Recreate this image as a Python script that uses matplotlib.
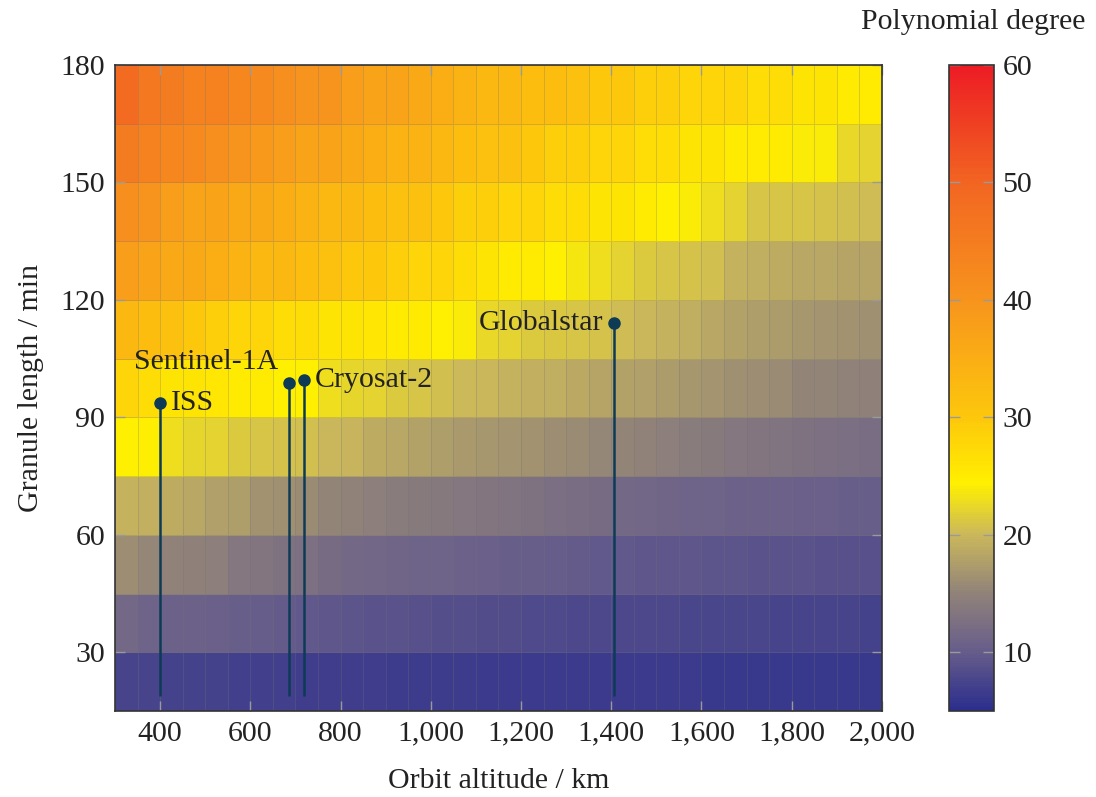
import numpy as np
import matplotlib
matplotlib.use('Agg')
import matplotlib.pyplot as plt
from matplotlib.colors import LinearSegmentedColormap
from matplotlib.ticker import FuncFormatter


plt.rcParams['font.family'] = ['Liberation Serif', 'DejaVu Serif']

# grid of the surface: orbit altitude (km) and granule length (min)
alt_edges = np.arange(300, 2001, 50)
gran_edges = np.arange(15, 181, 15)

# polynomial degree per cell, one list per granule-length row (bottom to top)
deg_15 = [7.5, 7.4, 7.3, 7.2, 7.2, 7.1, 7.0, 7.0, 6.9, 6.9, 6.8, 6.8, 6.7, 6.7, 6.6, 6.6, 6.5,
          6.5, 6.5, 6.4, 6.4, 6.4, 6.3, 6.3, 6.3, 6.3, 6.2, 6.2, 6.2, 6.2, 6.1, 6.1, 6.1, 6.1]
deg_30 = [11.5, 11, 10.8, 10.6, 10.4, 10.2, 10, 9.8, 9.6, 9.3, 9.1, 9, 8.9, 8.8, 8.6, 8.5, 8.4,
          8.3, 8.2, 8.1, 8, 7.9, 7.9, 7.8, 7.8, 7.7, 7.7, 7.6, 7.6, 7.5, 7.5, 7.4, 7.4, 7.3]
deg_45 = [16, 15.5, 15, 14.8, 14.5, 13.5, 13.2, 12.8, 12.6, 12, 11.6, 11.4, 11.2, 11, 10.9, 10.7, 10.5,
          10.3, 10.2, 10, 9.9, 9.7, 9.6, 9.5, 9.4, 9.3, 9.2, 9.1, 9, 9, 8.9, 8.8, 8.8, 8.7]
deg_60 = [19.6, 19.3, 18.8, 18.5, 17.8, 17.5, 16.5, 16.2, 15.8, 15.3, 15, 14.5, 14.2, 14, 13.7, 13.5, 13.3,
          13, 12.8, 12.5, 12.2, 12, 11.6, 11.4, 11.2, 11, 10.9, 10.8, 10.7, 10.6, 10.5, 10.4, 10.3, 10.2]
deg_75 = [24.5, 24.3, 23, 22.2, 22, 21.5, 21, 20.7, 20.5, 20, 19.7, 18.8, 18.5, 18, 17.5, 17.2, 17,
          16.7, 16.5, 16, 15.8, 15.5, 15.2, 15, 14.5, 14.2, 14, 13.5, 13.3, 13, 12.8, 12.6, 12.4, 12.2]
deg_90 = [28, 27, 26, 26, 25.5, 25, 25, 24.5, 24.5, 23, 22.3, 22, 21.5, 21, 20.5, 20.2, 20,
          19.5, 19.2, 19, 18.7, 18.3, 18, 17.8, 17.3, 17, 16.7, 16.3, 16, 15.8, 15.3, 15.2, 15, 14.8]
deg_105 = [33, 32, 31, 30, 29, 28, 28, 27, 27, 26, 26, 25.5, 25, 25, 24.5, 24, 22.5,
           22, 21.5, 21.2, 21, 20.8, 20.3, 20, 19.5, 19, 18.5, 18, 17.5, 17.3, 17, 16.8, 16.5, 16.3]
deg_120 = [38, 37, 36, 36, 35, 34, 33, 33, 32, 31, 30, 30, 29, 28, 28, 27, 26,
           25, 25, 24.5, 23.5, 23, 22, 21.5, 21, 20.8, 20.5, 19.5, 19, 18.8, 18.5, 18.5, 18.3, 18.2]
deg_135 = [41, 40, 38, 37, 37, 36, 36, 35, 34, 33, 33, 32, 31, 31, 30, 29, 29,
           28, 28, 27, 27, 26, 26, 25, 24.5, 24, 23, 22, 21, 21, 21, 20.8, 20.5, 20.3]
deg_150 = [45, 44, 43, 42, 41, 40, 39, 38, 37, 37, 36, 35, 34, 34, 33, 32, 31,
           31, 30, 29, 29, 28, 28, 27, 27, 26, 26, 25, 25, 25, 24, 24, 22.5, 22]
deg_165 = [49, 46, 45, 44, 44, 43, 42, 41, 40, 40, 38, 37, 37, 36, 35, 34, 33,
           33, 32, 32, 31, 30, 30, 29, 29, 28, 28, 28, 27, 27, 26, 26, 25, 25]

# satellites
sat_names = ['ISS', 'Sentinel-1A', 'Cryosat-2', 'Globalstar']
sat_alt = [400, 686, 719, 1406]
sat_period = [93.8, 98.9, 99.6, 114.2]

degree = np.array([deg_15, deg_30, deg_45, deg_60, deg_75, deg_90,
                   deg_105, deg_120, deg_135, deg_150, deg_165])

vmin, vmax = 5, 60
nodes = [(5, '#2b2e8c'), (10, '#675d8b'), (15, '#918379'), (20, '#cbb85b'),
         (24.3, '#fff000'), (30, '#fdc70c'), (40, '#f7941d'), (50, '#f26522'),
         (60, '#ed1c24')]
cmap = LinearSegmentedColormap.from_list(
    'poly', [((v - vmin) / (vmax - vmin), c) for v, c in nodes])

fig = plt.figure(figsize=(10.96, 7.97), dpi=100)
ax = fig.add_axes([0.1049, 0.1079, 0.6998, 0.8105])
cax = fig.add_axes([0.8659, 0.1079, 0.041, 0.8105])

mesh = ax.pcolormesh(alt_edges, gran_edges, degree, cmap=cmap, vmin=vmin, vmax=vmax,
                     edgecolors=(0.45, 0.45, 0.45, 0.28), linewidth=0.7)

stem_col = '#0d3b56'
ax.vlines(sat_alt, 18.8, sat_period, color=stem_col, lw=1.8, zorder=3)
ax.plot(sat_alt, sat_period, 'o', color=stem_col, ms=8, zorder=4)

txt_col = '#222222'
fs = 21.5
offsets = {'ISS': ((8, 0), 'left', 'center'),
           'Sentinel-1A': ((-8, 15), 'right', 'center'),
           'Cryosat-2': ((8, 0), 'left', 'center'),
           'Globalstar': ((-8, 0), 'right', 'center')}
for name, x, y in zip(sat_names, sat_alt, sat_period):
    (dx, dy), ha, va = offsets[name]
    ax.annotate(name, (x, y), xytext=(dx, dy), textcoords='offset points',
                ha=ha, va=va, fontsize=fs, color=txt_col, zorder=5)

ax.set_xlim(300, 2000)
ax.set_ylim(15, 180)
ax.set_xticks(np.arange(400, 2001, 200))
ax.set_yticks(np.arange(30, 181, 30))
ax.xaxis.set_major_formatter(FuncFormatter(lambda v, p: '{:,.0f}'.format(v)))
ax.tick_params(direction='in', length=7, width=1, color='#9a9a9a',
               top=True, right=True, labelsize=fs, pad=7, labelcolor=txt_col)
ax.set_xlabel('Orbit altitude / km', fontsize=fs, color=txt_col, labelpad=15)
ax.set_ylabel('Granule length / min', fontsize=fs, color=txt_col, labelpad=12)
for s in ax.spines.values():
    s.set_color('#333333')
    s.set_linewidth(1.2)

cb = fig.colorbar(mesh, cax=cax)
cb.set_ticks(np.arange(10, 61, 10))
cax.tick_params(direction='in', length=8, width=1, color='#9a9a9a',
                left=True, right=True, labelsize=fs, pad=6, labelcolor=txt_col)
cb.outline.set_edgecolor('#333333')
cb.outline.set_linewidth(1.2)
fig.text(0.99, 0.972, 'Polynomial degree', ha='right', va='center',
         fontsize=fs, color=txt_col)

fig.savefig('out.png', dpi=100)
